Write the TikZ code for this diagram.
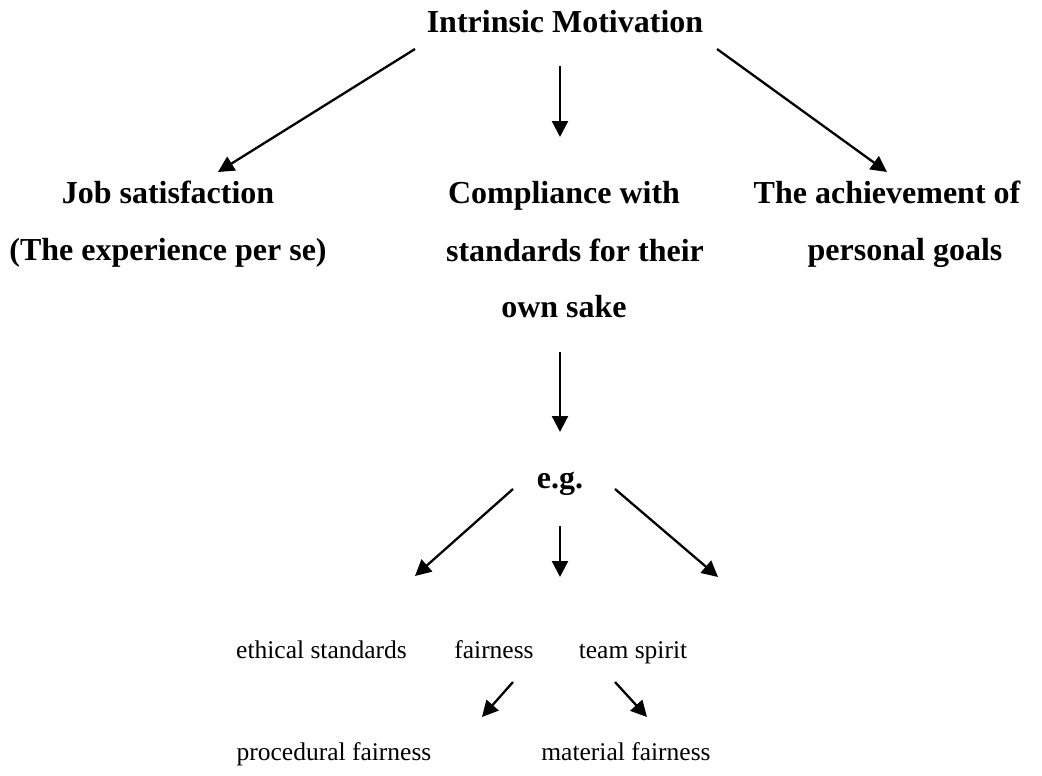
\documentclass[tikz,border=0pt]{standalone}
\usepackage{fontspec}
\setmainfont{Liberation Serif}
\usetikzlibrary{arrows.meta}
\begin{document}
\begin{tikzpicture}[x=1pt,y=-1pt,
  bt/.style={anchor=base, inner sep=0pt, font=\fontsize{32}{38}\selectfont\bfseries},
  rt/.style={anchor=base, inner sep=0pt, font=\fontsize{25.5}{30}\selectfont},
  arr/.style={line width=2.3pt, -{Triangle[length=16pt,width=16pt]}}]
\useasboundingbox (0,0) rectangle (1042,776);
% texts
\node[bt] (im) at (565,33) {Intrinsic Motivation};
\node[bt] (job1) at (168,203) {Job satisfaction};
\node[bt] (job2) at (168,260) {(The experience per se)};
\node[bt] (comp1) at (564,203) {Compliance with};
\node[bt] (comp2) at (575,261) {standards for their};
\node[bt] (comp3) at (564,317) {own sake};
\node[bt] (ach1) at (887,203) {The achievement of};
\node[bt] (ach2) at (905,260) {personal goals};
\node[bt] (eg) at (560,488) {e.g.};
\node[rt] (eth) at (321.5,658) {ethical standards};
\node[rt] (fair) at (494,658) {fairness};
\node[rt] (team) at (633,658) {team spirit};
\node[rt] (proc) at (334,760) {procedural fairness};
\node[rt] (mat) at (626,760) {material fairness};
% connector end points
\coordinate (imL) at (415,49);   \coordinate (jobT) at (218,172);
\coordinate (imM) at (560,66);   \coordinate (compT) at (560,137);
\coordinate (imR) at (717,49);   \coordinate (achT) at (887,172);
\coordinate (compB) at (560,352); \coordinate (egT) at (560,432);
\coordinate (egL) at (513,489);  \coordinate (ethT) at (415,576);
\coordinate (egM) at (560,526);  \coordinate (fairT) at (560,577);
\coordinate (egR) at (615,489);  \coordinate (teamT) at (718,577);
\coordinate (fairL) at (513,682); \coordinate (procT) at (482,717);
\coordinate (fairR) at (615,682); \coordinate (matT) at (647,717);
% connectors
\draw[arr] (imL) -- (jobT);
\draw[arr] (imM) -- (compT);
\draw[arr] (imR) -- (achT);
\draw[arr] (compB) -- (egT);
\draw[arr] (egL) -- (ethT);
\draw[arr] (egM) -- (fairT);
\draw[arr] (egR) -- (teamT);
\draw[arr] (fairL) -- (procT);
\draw[arr] (fairR) -- (matT);
\end{tikzpicture}
\end{document}
